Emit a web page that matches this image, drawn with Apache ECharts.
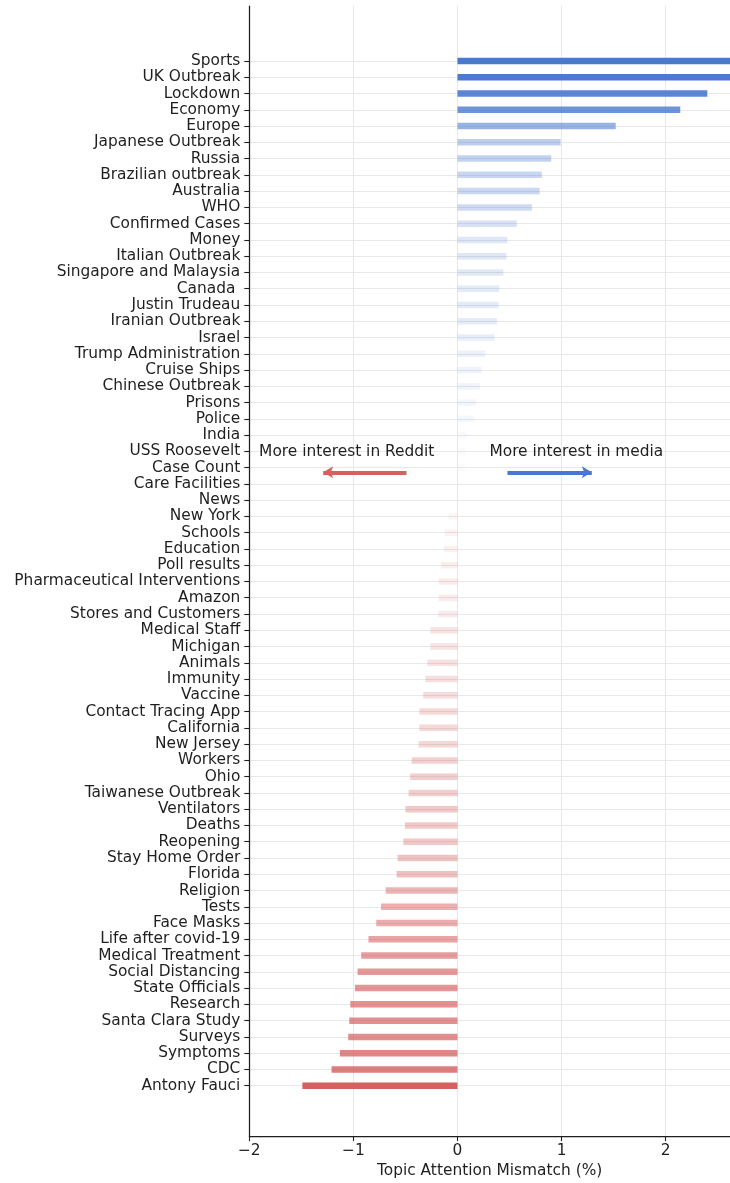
<!DOCTYPE html>
<html>
<head>
<meta charset="utf-8">
<script src="https://cdn.jsdelivr.net/npm/echarts@6/dist/echarts.min.js"></script>
<style>
html,body{margin:0;padding:0;background:#fff;}
#chart{width:730px;height:1183px;}
</style>
</head>
<body>
<div id="chart"></div>
<script>
const categories = [
  "Sports","UK Outbreak","Lockdown","Economy","Europe","Japanese Outbreak","Russia",
  "Brazilian outbreak","Australia","WHO","Confirmed Cases","Money","Italian Outbreak",
  "Singapore and Malaysia","Canada ","Justin Trudeau","Iranian Outbreak","Israel",
  "Trump Administration","Cruise Ships","Chinese Outbreak","Prisons","Police","India",
  "USS Roosevelt","Case Count","Care Facilities","News","New York","Schools","Education",
  "Poll results","Pharmaceutical Interventions","Amazon","Stores and Customers",
  "Medical Staff","Michigan","Animals","Immunity","Vaccine","Contact Tracing App",
  "California","New Jersey","Workers","Ohio","Taiwanese Outbreak","Ventilators","Deaths",
  "Reopening","Stay Home Order","Florida","Religion","Tests","Face Masks",
  "Life after covid-19","Medical Treatment","Social Distancing","State Officials",
  "Research","Santa Clara Study","Surveys","Symptoms","CDC","Antony Fauci"
];
const mismatch = [
  2.68, 2.64, 2.40, 2.14, 1.52, 0.99, 0.90,
  0.81, 0.79, 0.715, 0.57, 0.48, 0.47,
  0.44, 0.40, 0.395, 0.38, 0.356,
  0.266, 0.23, 0.215, 0.18, 0.163, 0.093,
  0.08, 0.07, 0.035, -0.02, -0.083, -0.12, -0.13,
  -0.16, -0.18, -0.18, -0.185,
  -0.26, -0.26, -0.29, -0.31, -0.33, -0.365,
  -0.365, -0.375, -0.44, -0.455, -0.47, -0.50, -0.505,
  -0.52, -0.575, -0.585, -0.69, -0.735, -0.78,
  -0.855, -0.925, -0.96, -0.985,
  -1.03, -1.04, -1.05, -1.13, -1.21, -1.49
];
const xTickValues = [-2, -1, 0, 1, 2];
const xRange = [-2, 2.618];
const annotationTexts = ["More interest in Reddit", "More interest in media"];

const BLUE = [72, 120, 208];
const RED = [214, 95, 95];
const TEXT = '#1f1f1f';
const GRID = '#e8e8e8';
const FONT = 'DejaVu Sans';
const FS = 15.4;

const maxPos = Math.max(...mismatch);
const maxNeg = Math.max(...mismatch.map(v => -v));
function barColor(v) {
  const c = v >= 0 ? BLUE : RED;
  const a = v >= 0 ? v / maxPos : -v / maxNeg;
  return `rgba(${c[0]},${c[1]},${c[2]},${Math.min(1, a).toFixed(3)})`;
}

const chart = echarts.init(document.getElementById('chart'), null, {renderer: 'canvas'});
const n = categories.length;
const annoLabel = {show: true, position: 'inside', fontSize: FS, fontFamily: FONT, color: TEXT, opacity: 1};
const option = {
  animation: false,
  backgroundColor: '#fff',
  grid: [
    {left: 249.3, right: 0, top: 6, bottom: 43},
    {left: 249.3, right: 0, top: 61, bottom: 97.3}
  ],
  xAxis: [
    {
      gridIndex: 0, type: 'value', min: xRange[0], max: xRange[1], interval: 1,
      axisLine: {show: true, onZero: false, lineStyle: {color: TEXT, width: 1.25}},
      axisTick: {show: true, length: 5, lineStyle: {color: TEXT, width: 1.1}},
      axisLabel: {
        fontSize: FS, fontFamily: FONT, color: TEXT, margin: 7, showMaxLabel: false,
        formatter: v => xTickValues.includes(v) ? String(v).replace('-', '\u2212') : ''
      },
      splitLine: {show: true, showMaxLine: false, lineStyle: {color: GRID, width: 1}},
      name: 'Topic Attention Mismatch (%)', nameLocation: 'middle', nameGap: 24,
      nameTextStyle: {fontSize: FS, fontFamily: FONT, color: TEXT}
    },
    {gridIndex: 1, type: 'value', min: xRange[0], max: xRange[1], show: false}
  ],
  yAxis: [
    {
      gridIndex: 0, type: 'value', inverse: true, min: -3.38, max: n - 1 + 3.34,
      axisLine: {show: true, onZero: false, lineStyle: {color: TEXT, width: 1.25}},
      axisTick: {show: false}, axisLabel: {show: false}, splitLine: {show: false}
    },
    {
      gridIndex: 1, type: 'category', data: categories, inverse: true, boundaryGap: false,
      axisLine: {show: false, onZero: false},
      axisTick: {show: true, length: 5, alignWithLabel: true, lineStyle: {color: TEXT, width: 1.1}},
      axisLabel: {fontSize: FS, fontFamily: FONT, color: TEXT, margin: 9, interval: 0},
      splitLine: {show: true, interval: 0, lineStyle: {color: GRID, width: 1}}
    }
  ],
  series: [
    {
      type: 'bar', xAxisIndex: 1, yAxisIndex: 1, barWidth: 6.5, clip: true,
      data: mismatch.map(v => ({value: v, itemStyle: {color: barColor(v)}})),
      silent: true
    },
    {
      type: 'scatter', xAxisIndex: 0, yAxisIndex: 0, symbolSize: 0, silent: true,
      itemStyle: {opacity: 1},
      data: [
        {value: [-1.064, 24.16], label: Object.assign({formatter: annotationTexts[0]}, annoLabel)},
        {value: [1.142, 24.16], label: Object.assign({formatter: annotationTexts[1]}, annoLabel)}
      ],
      markLine: {
        silent: true, symbol: ['none', 'arrow'], symbolSize: [9, 10],
        label: {show: false},
        data: [
          [{coord: [-0.49, 25.39], lineStyle: {color: `rgb(${RED.join(',')})`, width: 4, type: 'solid', opacity: 1}}, {coord: [-1.29, 25.39]}],
          [{coord: [0.48, 25.39], lineStyle: {color: `rgb(${BLUE.join(',')})`, width: 4, type: 'solid', opacity: 1}}, {coord: [1.29, 25.39]}]
        ]
      }
    }
  ]
};
chart.setOption(option);
</script>
</body>
</html>
